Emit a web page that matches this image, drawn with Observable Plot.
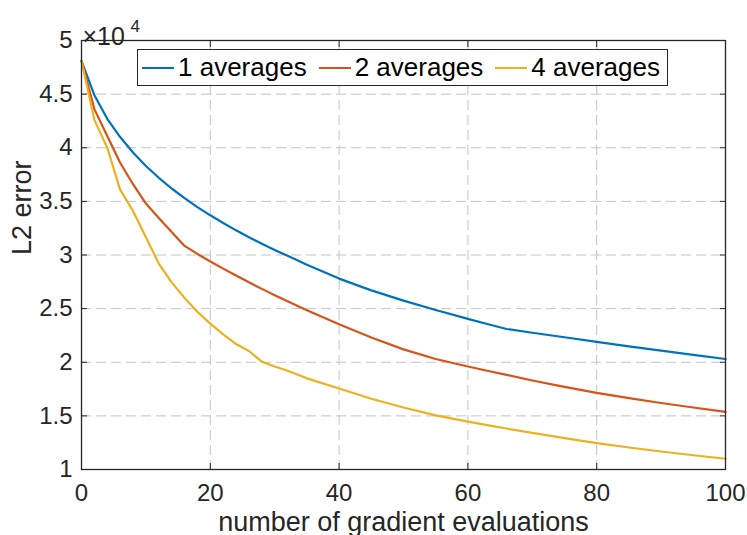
<!DOCTYPE html>
<html>
<head>
<meta charset="utf-8">
<script src="https://cdn.jsdelivr.net/npm/d3@7"></script>
<script src="https://cdn.jsdelivr.net/npm/@observablehq/plot@0.6"></script>
<style>
  html, body { margin: 0; padding: 0; background: white; }
  #wrap { position: relative; width: 747px; height: 535px; overflow: hidden; font-family: "Liberation Sans", Arial, sans-serif; color: #262626; }
  #legend { position: absolute; left: 137px; top: 49px; width: 531px; height: 37px; box-sizing: border-box;
            border: 1px solid #262626; background: white; display: flex; align-items: center; font-size: 26px; color: #000; }
  .item { display: flex; align-items: center; margin-left: 4px; margin-right: 8px; white-space: nowrap; }
  .swatch { width: 32px; height: 0; border-top: 2px solid; margin-right: 4px; }
</style>
</head>
<body>
<div id="wrap"><div id="legend"></div></div>
<script>
// ---- data ----
const seriesNames = ["1 averages", "2 averages", "4 averages"];
const seriesColors = ["#0072BD", "#D95319", "#EDB120"];
const evals = [0, 2, 4, 6, 8, 10, 12, 14, 16, 18, 20, 22, 24, 26, 28, 30, 32, 35, 40, 45, 50, 55, 60, 63, 66, 70, 75, 80, 85, 90, 95, 100];
const avg1 = [48100, 44900, 42700, 41000, 39550, 38300, 37200, 36200, 35300, 34470, 33700, 32980, 32300, 31660, 31050, 30470, 29920, 29100, 27800, 26700, 25750, 24870, 24050, 23570, 23100, 22750, 22330, 21900, 21480, 21080, 20680, 20300];
const avg2 = [48100, 43600, 41100, 38600, 36600, 34800, 33450, 32150, 30850, 30100, 29400, 28730, 28080, 27450, 26840, 26250, 25680, 24850, 23540, 22300, 21200, 20300, 19600, 19210, 18820, 18300, 17700, 17140, 16650, 16200, 15780, 15370];
const avg4 = [48100, 42600, 40000, 36100, 34100, 31650, 29200, 27450, 26000, 24700, 23600, 22600, 21700, 21050, 20050, 19600, 19200, 18500, 17550, 16600, 15780, 15050, 14470, 14140, 13820, 13410, 12920, 12460, 12050, 11680, 11330, 11000];
const xTicks = [0, 20, 40, 60, 80, 100];
const yTicks = [10000, 15000, 20000, 25000, 30000, 35000, 40000, 45000, 50000];
const yExponentBase = "×10";
const yExponent = "4";
const xLabel = "number of gradient evaluations";
const yLabel = "L2 error";

const seriesValues = [avg1, avg2, avg4];
const data = seriesNames.flatMap((name, i) => evals.map((x, j) => ({series: name, x, y: seriesValues[i][j]})));

const ink = "#262626";
const gridStyle = {stroke: "#c4c4c4", strokeOpacity: 1, strokeWidth: 1, strokeDasharray: "10,5"};

const chart = Plot.plot({
  width: 747,
  height: 535,
  marginLeft: 81,
  marginRight: 22,
  marginTop: 40,
  marginBottom: 66,
  style: {fontFamily: "'Liberation Sans', Arial, sans-serif", fontSize: "24px", color: ink, background: "white", overflow: "visible"},
  x: {domain: [0, 100], ticks: xTicks},
  y: {domain: [10000, 50000], ticks: yTicks},
  color: {domain: seriesNames, range: seriesColors},
  marks: [
    Plot.gridX(xTicks, gridStyle),
    Plot.gridY(yTicks, gridStyle),
    Plot.line(data, {x: "x", y: "y", stroke: "series", strokeWidth: 2.2}),
    Plot.frame({stroke: ink, strokeWidth: 1.3}),
    // inward tick marks on all four sides
    Plot.axisX(xTicks, {anchor: "bottom", tickSize: -6, tickFormat: () => "", stroke: ink, label: null}),
    Plot.axisX(xTicks, {anchor: "top", tickSize: -6, tickFormat: () => "", stroke: ink, label: null}),
    Plot.axisY(yTicks, {anchor: "left", tickSize: -6, tickFormat: () => "", stroke: ink, label: null}),
    Plot.axisY(yTicks, {anchor: "right", tickSize: -6, tickFormat: () => "", stroke: ink, label: null}),
    // tick labels
    Plot.axisX(xTicks, {anchor: "bottom", tickSize: 0, tickPadding: 14, tickFormat: d => String(d), fill: ink, label: null}),
    Plot.axisY(yTicks, {anchor: "left", tickSize: 0, tickPadding: 9, tickFormat: d => String(d / 10000), fill: ink, label: null}),
    // axis titles
    Plot.text([xLabel], {frameAnchor: "bottom", dy: 61, fontSize: 27, fill: ink}),
    Plot.text([yLabel], {frameAnchor: "left", dx: -59, rotate: -90, fontSize: 27, fill: ink}),
    Plot.text([yExponentBase], {frameAnchor: "top-left", textAnchor: "start", dx: 1, dy: -13, fontSize: 25, fill: ink}),
    Plot.text([yExponent], {frameAnchor: "top-left", textAnchor: "start", dx: 49, dy: -21, fontSize: 17, fill: ink})
  ]
});

const wrap = document.getElementById("wrap");
wrap.insertBefore(chart, wrap.firstChild);

const legend = document.getElementById("legend");
seriesNames.forEach((name, i) => {
  const item = document.createElement("div");
  item.className = "item";
  const sw = document.createElement("div");
  sw.className = "swatch";
  sw.style.borderTopColor = seriesColors[i];
  const label = document.createElement("span");
  label.textContent = name;
  item.appendChild(sw);
  item.appendChild(label);
  legend.appendChild(item);
});
</script>
</body>
</html>
